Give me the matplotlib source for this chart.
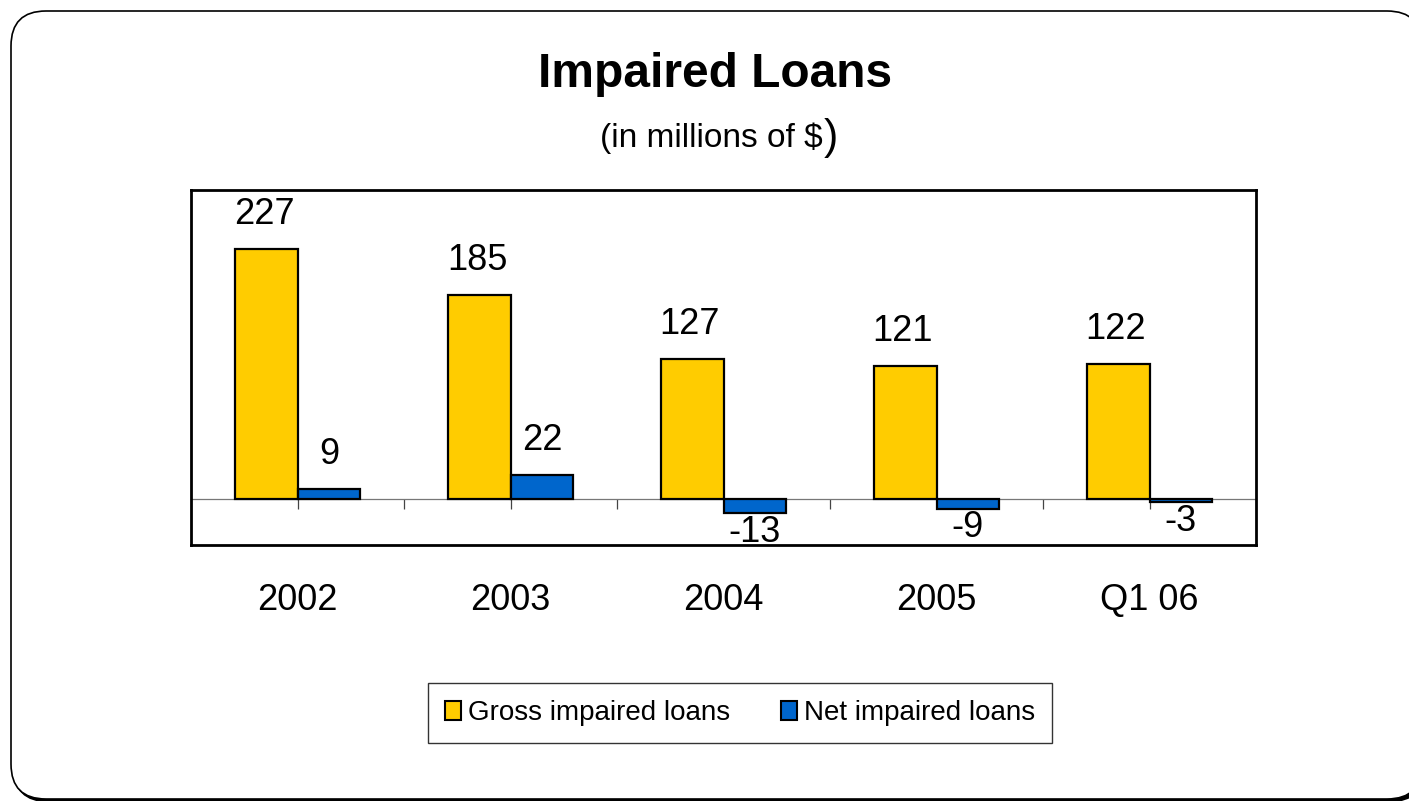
import numpy as np
import matplotlib
matplotlib.use("Agg")
import matplotlib.pyplot as plt
from matplotlib.patches import FancyBboxPatch, Patch

plt.rcParams['font.family'] = ['Liberation Sans', 'DejaVu Sans']

categories = ["2002", "2003", "2004", "2005", "Q1 06"]
gross_impaired = [227, 185, 127, 121, 122]
net_impaired = [9, 22, -13, -9, -3]
series_names = ["Gross impaired loans", "Net impaired loans"]

GOLD = "#FFCC00"
BLUE = "#0066CC"

W, H = 1409, 801
fig = plt.figure(figsize=(W / 100, H / 100), dpi=100)

# rounded slide frame with a small drop shadow
shadow = FancyBboxPatch((0.11 + 0.025, 0.02 - 0.025), 14.11, 7.88,
                        boxstyle="round,pad=0,rounding_size=0.35",
                        transform=fig.dpi_scale_trans, facecolor="black",
                        edgecolor="black", lw=1.2, zorder=-3)
frame = FancyBboxPatch((0.11, 0.02), 14.11, 7.88,
                       boxstyle="round,pad=0,rounding_size=0.35",
                       transform=fig.dpi_scale_trans, facecolor="white",
                       edgecolor="black", lw=1.2, zorder=-2)
fig.add_artist(shadow)
fig.add_artist(frame)

# titles
fig.text(715 / W, 1 - 87 / H, "Impaired Loans", ha="center", va="baseline",
         fontsize=34.5, fontweight="bold")
sub = fig.text(711 / W, 1 - 147 / H, "(in millions of $", ha="center",
               va="baseline", fontsize=24)

ax = fig.add_axes([191 / W, 1 - 545 / H, (1256 - 191) / W, (545 - 190) / H])
ax.set_facecolor("none")
x = np.arange(len(categories))
bw = 0.295
ymin, ymax = -42, 280.5

ax.bar(x - bw / 2, gross_impaired, bw, color=GOLD, edgecolor="black",
       linewidth=1.6, zorder=3, label=series_names[0])
ax.bar(x + bw / 2, net_impaired, bw, color=BLUE, edgecolor="black",
       linewidth=1.6, zorder=3, label=series_names[1])

ax.set_xlim(-0.5, len(categories) - 0.5)
ax.set_ylim(ymin, ymax)
ax.set_xticks([])
ax.set_yticks([])
for s in ax.spines.values():
    s.set_linewidth(2)
    s.set_color("black")

# zero baseline with ticks at category centres and boundaries
zero_frac = (0 - ymin) / (ymax - ymin)
sec = ax.secondary_xaxis(zero_frac)
sec.set_alignment("bottom")
sec.set_xticks(np.arange(0, len(categories) - 0.5, 0.5))
sec.tick_params(axis="x", direction="out", length=7.5, width=0.9,
                color="#444444", labelbottom=False, labeltop=False)
sec.spines["bottom"].set_color("#777777")
sec.spines["bottom"].set_linewidth(0.9)

# value labels
for xi, v in zip(x - bw / 2, gross_impaired):
    ax.annotate(str(v), (xi, v), xytext=(-1.5, 18), textcoords="offset points",
                ha="center", va="baseline", fontsize=26)
for xi, v in zip(x + bw / 2, net_impaired):
    off = 18 if v >= 0 else -20.5
    ax.annotate(str(v), (xi, v), xytext=(0, off), textcoords="offset points",
                ha="center", va="baseline", fontsize=26)

# category labels below the plot box
for xi, c in zip(x, categories):
    ax.text(xi, -65 / 355, c, transform=ax.get_xaxis_transform(),
            ha="center", va="baseline", fontsize=26)

handles = [Patch(facecolor=GOLD, edgecolor="black", linewidth=1.5),
           Patch(facecolor=BLUE, edgecolor="black", linewidth=1.5)]
leg = fig.legend(handles, series_names, loc="center",
                 bbox_to_anchor=(740 / W, 1 - 713 / H), ncol=2,
                 fontsize=20, frameon=True, fancybox=False,
                 handlelength=0.6, handleheight=0.7, handletextpad=0.25,
                 columnspacing=1.8, borderpad=0.6)
leg.get_frame().set_edgecolor("black")
leg.get_frame().set_linewidth(1.0)

fig.canvas.draw()
fig.add_artist(plt.Annotation(")", xy=(1, 0), xycoords=sub, xytext=(1, -3),
                              textcoords="offset points", ha="left",
                              va="bottom", fontsize=31))

fig.savefig("out.png", dpi=100)
